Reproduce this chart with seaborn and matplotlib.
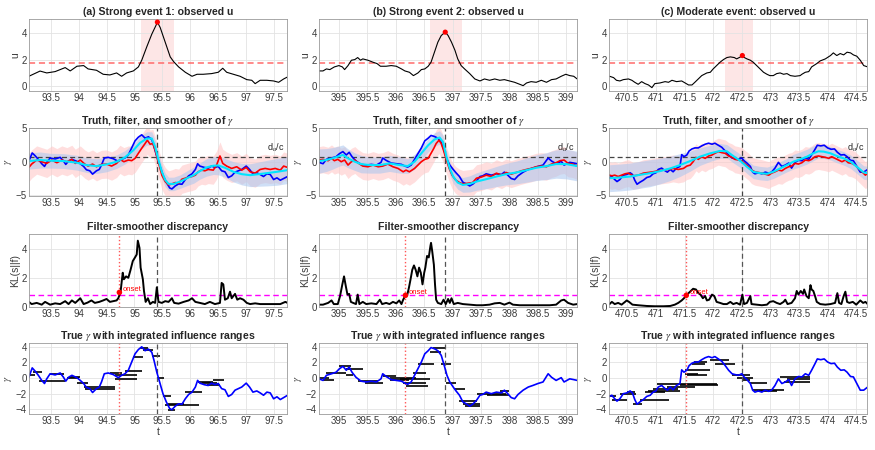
import matplotlib
matplotlib.use('Agg')
import matplotlib.pyplot as plt
from matplotlib.ticker import FuncFormatter
import seaborn as sns
import numpy as np

# ---------------- data ----------------
# observed u, (t, u)
u1 = [(93.11,0.75),(93.31,1.14),(93.43,1.0),(93.58,1.1),(93.76,1.4),(93.85,1.15),(93.97,1.5),(94.09,1.55),
      (94.17,1.3),(94.32,1.2),(94.44,0.9),(94.56,0.85),(94.68,1.0),(94.77,0.75),(94.86,1.0),(94.98,1.15),
      (95.07,1.45),(95.13,1.95),(95.22,2.95),(95.31,3.9),(95.39,4.6),(95.41,4.8),(95.46,4.4),(95.55,3.3),
      (95.64,2.2),(95.70,1.85),(95.79,1.45),(95.91,1.05),(96.03,0.75),(96.12,0.9),(96.23,0.9),(96.38,0.95),
      (96.50,1.05),(96.58,1.35),(96.65,1.05),(96.77,0.9),(96.89,0.75),(97.01,0.5),(97.10,0.45),(97.16,0.2),
      (97.25,0.45),(97.37,0.45),(97.49,0.4),(97.58,0.3),(97.67,0.55),(97.74,0.7)]
u2 = [(394.65,1.15),(394.72,1.15),(394.78,1.3),(394.84,1.25),(394.92,1.45),(395.0,1.55),(395.06,1.45),
      (395.10,1.25),(395.16,1.55),(395.22,1.95),(395.28,2.0),(395.33,2.15),(395.38,1.95),(395.42,2.05),
      (395.51,1.95),(395.60,1.8),(395.67,1.7),(395.73,1.5),(395.83,1.5),(395.92,1.55),(396.01,1.5),
      (396.10,1.3),(396.16,1.15),(396.24,1.05),(396.31,0.8),(396.39,1.0),(396.45,1.25),(396.51,1.3),
      (396.57,1.5),(396.62,1.8),(396.68,2.55),(396.74,3.3),(396.80,3.8),(396.87,4.05),(396.92,3.8),
      (396.98,3.3),(397.04,2.7),(397.09,2.05),(397.15,1.55),(397.21,1.3),(397.30,0.95),(397.39,0.55),
      (397.48,0.4),(397.56,0.55),(397.65,0.45),(397.74,0.55),(397.83,0.45),(397.91,0.5),(398.0,0.4),
      (398.09,0.3),(398.18,0.15),(398.24,0.05),(398.30,0.25),(398.38,0.35),(398.47,0.3),(398.56,0.45),
      (398.65,0.3),(398.74,0.5),(398.82,0.55),(398.91,0.75),(398.99,0.9),(399.06,0.8),(399.13,0.75),(399.19,0.55)]
u3 = [(470.19,0.75),(470.26,0.65),(470.31,0.45),(470.37,0.4),(470.43,0.5),(470.52,0.55),(470.58,0.45),
      (470.63,0.3),(470.69,0.15),(470.75,0.35),(470.81,0.2),(470.87,0.1),(470.93,-0.1),(470.98,0.2),
      (471.07,0.25),(471.16,0.35),(471.22,0.3),(471.28,0.45),(471.36,0.35),(471.45,0.4),(471.51,0.25),
      (471.57,0.1),(471.63,0.1),(471.68,0.3),(471.74,0.55),(471.80,0.8),(471.89,1.0),(471.95,1.05),
      (472.0,1.3),(472.06,1.55),(472.12,1.8),(472.18,2.0),(472.24,2.15),(472.30,2.2),(472.37,2.15),
      (472.41,2.05),(472.50,2.25),(472.59,2.05),(472.65,1.95),(472.70,1.8),(472.76,1.55),(472.82,1.3),
      (472.88,1.05),(472.94,0.9),(472.99,0.8),(473.05,0.8),(473.11,0.95),(473.17,1.0),(473.23,0.9),
      (473.29,0.95),(473.35,0.8),(473.43,0.75),(473.52,0.8),(473.55,0.9),(473.61,1.05),(473.67,1.1),
      (473.72,1.45),(473.81,1.7),(473.87,1.9),(473.96,2.05),(474.05,2.3),(474.10,2.5),(474.16,2.3),
      (474.22,2.45),(474.28,2.35),(474.34,2.55),(474.40,2.5),(474.45,2.35),(474.51,2.25),(474.57,1.95),
      (474.63,1.55),(474.70,1.45)]

# true gamma, (t, gamma)
g1 = [(93.11,0.1),(93.17,1.3),(93.22,0.9),(93.28,0.35),(93.34,-0.3),(93.39,-0.7),(93.43,-0.1),(93.49,0.55),
      (93.58,0.4),(93.67,0.65),(93.73,0.1),(93.77,-0.4),(93.82,0.1),(93.88,0.35),(93.97,0.05),(94.03,-0.3),
      (94.09,-0.7),(94.14,-1.2),(94.20,-1.35),(94.25,-1.85),(94.32,-1.35),(94.37,-1.15),(94.41,-0.5),
      (94.46,0.55),(94.53,0.65),(94.62,0.45),(94.71,0.05),(94.77,0.35),(94.83,0.55),(94.89,1.0),(94.95,2.05),
      (95.01,3.1),(95.07,3.65),(95.13,4.0),(95.19,3.5),(95.25,3.7),(95.31,3.3),(95.35,2.25),(95.40,0.75),
      (95.45,-0.5),(95.51,-2.0),(95.57,-3.05),(95.63,-3.9),(95.67,-4.05),(95.73,-3.6),(95.79,-3.3),
      (95.85,-3.35),(95.91,-2.65),(95.97,-2.1),(96.03,-1.8),(96.09,-1.15),(96.13,-0.3),(96.17,-0.65),
      (96.25,-0.85),(96.32,-0.95),(96.38,-0.65),(96.44,-0.85),(96.50,-0.7),(96.56,-1.35),(96.62,-1.5),
      (96.68,-2.35),(96.74,-2.1),(96.80,-1.55),(96.86,-1.35),(96.92,-1.15),(97.00,-0.65),(97.06,-1.15),
      (97.12,-1.8),(97.19,-1.65),(97.25,-1.9),(97.31,-2.2),(97.37,-1.8),(97.43,-1.9),(97.49,-2.65),
      (97.55,-2.4),(97.61,-2.75),(97.67,-2.5),(97.74,-2.2)]
g2 = [(394.65,-0.1),(394.72,-0.3),(394.78,0.35),(394.87,0.55),(394.95,0.75),(395.01,1.2),(395.07,1.5),
      (395.13,1.0),(395.18,1.4),(395.23,0.75),(395.30,0.1),(395.39,-0.4),(395.48,-0.5),(395.57,-0.4),
      (395.66,-0.5),(395.74,-0.1),(395.77,0.55),(395.83,0.2),(395.92,-0.2),(396.01,-0.3),(396.10,-0.4),
      (396.16,-0.65),(396.21,-0.8),(396.27,-0.5),(396.33,0.35),(396.39,1.2),(396.45,2.05),(396.51,3.1),
      (396.57,3.5),(396.62,3.9),(396.68,3.75),(396.74,3.5),(396.80,2.9),(396.86,1.4),(396.90,0.35),
      (396.95,-0.5),(397.01,-1.15),(397.06,-1.65),(397.12,-2.2),(397.18,-3.05),(397.24,-3.3),(397.30,-3.6),
      (397.36,-3.3),(397.42,-2.85),(397.48,-2.2),(397.53,-2.1),(397.59,-1.8),(397.68,-2.0),(397.77,-1.8),
      (397.86,-1.9),(397.91,-1.55),(397.97,-2.0),(398.03,-2.5),(398.09,-2.65),(398.15,-2.1),(398.24,-1.55),
      (398.33,-1.15),(398.41,-0.95),(398.50,-0.7),(398.59,-0.5),(398.68,0.55),(398.74,0.1),(398.82,-0.3),
      (398.91,0.05),(398.96,-0.5),(399.06,-0.1),(399.13,-0.2),(399.19,-0.3)]
g3 = [(470.19,-2.35),(470.23,-2.2),(470.28,-2.65),(470.32,-2.95),(470.37,-2.65),(470.43,-2.0),(470.49,-1.9),
      (470.55,-1.65),(470.59,-1.9),(470.63,-2.75),(470.67,-3.35),(470.72,-3.05),(470.78,-2.75),(470.84,-2.35),
      (470.90,-2.2),(470.95,-1.8),(471.0,-1.65),(471.04,-1.15),(471.10,-0.95),(471.16,-1.35),(471.20,-1.55),
      (471.25,-1.15),(471.30,-1.5),(471.36,-0.95),(471.42,-0.7),(471.45,1.05),(471.49,0.75),(471.54,1.0),
      (471.58,1.6),(471.63,1.9),(471.68,2.05),(471.74,2.05),(471.80,2.35),(471.86,2.6),(471.92,2.75),
      (471.98,2.6),(472.03,2.75),(472.09,2.45),(472.15,2.15),(472.21,1.6),(472.27,1.0),(472.33,0.55),
      (472.38,0.45),(472.44,0.35),(472.50,0.55),(472.54,0.15),(472.59,-0.2),(472.65,-0.7),(472.69,-1.55),
      (472.73,-1.8),(472.79,-1.65),(472.85,-1.8),(472.91,-1.55),(472.97,-1.7),(473.02,-1.55),(473.08,-0.95),
      (473.14,-0.1),(473.20,-0.7),(473.26,-0.5),(473.32,-0.2),(473.37,-0.95),(473.43,-0.1),(473.49,0.2),
      (473.55,0.15),(473.61,0.55),(473.67,0.35),(473.72,1.0),(473.78,1.85),(473.82,2.45),(473.88,2.35),
      (473.94,2.45),(474.0,2.05),(474.06,1.85),(474.12,1.9),(474.17,1.4),(474.23,1.0),(474.29,1.05),
      (474.34,0.75),(474.40,0.2),(474.45,0.15),(474.51,-0.7),(474.57,-1.55),(474.63,-1.55),(474.70,-1.15)]

# filter mean, (t, gamma)
f1 = [(93.11,-0.85),(93.16,-0.35),(93.25,0.25),(93.34,0.0),(93.43,-0.25),(93.52,0.25),(93.61,-0.15),
      (93.70,0.25),(93.79,0.0),(93.88,0.35),(93.94,-0.25),(94.03,0.25),(94.11,-0.35),(94.17,-0.65),
      (94.25,-0.35),(94.32,-0.75),(94.41,-0.4),(94.50,-0.35),(94.59,-0.65),(94.68,-0.25),(94.74,0.35),
      (94.81,0.0),(94.89,0.25),(94.95,0.15),(95.01,0.5),(95.07,1.25),(95.13,2.0),(95.19,2.7),(95.23,3.2),
      (95.28,2.6),(95.33,2.7),(95.37,1.7),(95.41,0.5),(95.45,-0.75),(95.49,-2.0),(95.55,-2.95),(95.61,-3.45),
      (95.67,-3.3),(95.73,-3.1),(95.79,-3.2),(95.85,-2.6),(95.91,-2.45),(95.97,-2.3),(96.03,-2.2),(96.09,-2.0),
      (96.14,-1.5),(96.20,-1.25),(96.26,-1.35),(96.32,-1.15),(96.41,-1.25),(96.47,-0.5),(96.53,0.85),
      (96.58,-0.25),(96.65,-0.65),(96.74,-1.0),(96.83,-0.75),(96.92,-1.25),(97.00,-0.85),(97.07,-1.5),
      (97.16,-1.7),(97.25,-1.15),(97.34,-1.0),(97.43,-1.15),(97.52,-1.0),(97.61,-1.25),(97.67,-0.65),(97.74,-0.85)]
f2 = [(394.65,0.25),(394.72,0.35),(394.81,0.15),(394.87,0.5),(394.92,0.15),(394.98,0.35),(395.04,0.0),
      (395.10,0.25),(395.16,-0.5),(395.22,0.0),(395.28,0.25),(395.33,-0.15),(395.42,-0.65),(395.51,-0.75),
      (395.60,-0.5),(395.69,-0.75),(395.77,-0.65),(395.86,-0.35),(395.95,-0.75),(396.04,-1.0),(396.13,-1.5),
      (396.18,-1.25),(396.24,-1.5),(396.33,-1.0),(396.39,-0.5),(396.45,0.0),(396.51,0.35),(396.57,0.5),
      (396.62,1.25),(396.67,2.0),(396.71,2.7),(396.76,3.2),(396.80,2.7),(396.84,1.7),(396.89,0.25),
      (396.94,-1.0),(396.99,-2.0),(397.05,-2.7),(397.12,-3.1),(397.18,-3.3),(397.27,-3.2),(397.35,-3.1),
      (397.42,-2.45),(397.50,-2.3),(397.59,-2.0),(397.68,-2.2),(397.77,-1.7),(397.86,-2.0),(397.94,-1.6),
      (398.03,-1.85),(398.12,-1.6),(398.21,-1.35),(398.30,-1.15),(398.38,-1.0),(398.47,-0.75),(398.56,-0.65),
      (398.65,-0.75),(398.74,-0.35),(398.82,-0.15),(398.89,0.15),(398.96,0.25),(399.03,-0.25),(399.11,-0.35),
      (399.19,-0.65)]
f3 = [(470.19,-2.0),(470.23,-2.1),(470.28,-2.0),(470.34,-2.2),(470.40,-2.0),(470.46,-1.8),(470.52,-1.7),
      (470.60,-2.1),(470.69,-2.0),(470.78,-1.7),(470.87,-1.6),(470.95,-1.5),(471.04,-1.35),(471.13,-1.25),
      (471.22,-1.15),(471.30,-1.0),(471.39,-1.15),(471.48,-1.0),(471.54,-0.65),(471.60,-0.5),(471.65,0.0),
      (471.70,0.65),(471.74,0.35),(471.80,0.75),(471.86,0.5),(471.92,0.85),(471.98,1.0),(472.03,1.25),
      (472.09,1.5),(472.15,1.35),(472.21,1.25),(472.27,0.85),(472.33,0.65),(472.38,0.35),(472.44,0.25),
      (472.50,0.1),(472.56,-0.35),(472.62,-0.75),(472.67,-1.25),(472.73,-1.5),(472.79,-1.6),(472.85,-1.7),
      (472.91,-1.85),(472.97,-2.0),(473.02,-1.7),(473.08,-1.5),(473.14,-1.25),(473.20,-1.35),(473.26,-1.0),
      (473.32,-0.75),(473.37,-0.65),(473.43,-0.25),(473.49,-0.35),(473.55,-0.15),(473.61,0.25),(473.67,0.15),
      (473.72,0.35),(473.78,0.75),(473.84,0.85),(473.90,0.75),(473.96,0.65),(474.02,0.5),(474.07,0.75),
      (474.13,0.5),(474.19,0.25),(474.25,0.0),(474.31,0.25),(474.36,-0.15),(474.42,-0.25),(474.48,-0.5),
      (474.54,-1.0),(474.60,-1.5),(474.66,-2.0),(474.70,-1.7)]
filter_spread = [2.1, 2.0, 2.0]  # half width of the pink filter band

# smoother mean and half width, (t, gamma, spread)
s1 = [(93.11,0.1,1.2),(93.31,0.25,1.2),(93.49,0.15,1.1),(93.73,0.1,1.1),(93.97,-0.15,1.1),(94.14,-0.5,1.1),
      (94.32,-0.65,1.1),(94.50,-0.4,1.1),(94.68,0.0,1.0),(94.83,0.65,1.0),(94.98,1.7,1.0),(95.10,2.8,1.0),
      (95.22,3.45,1.0),(95.31,3.45,1.0),(95.37,2.2,1.0),(95.43,0.25,1.0),(95.49,-1.5,1.0),(95.55,-2.7,1.0),
      (95.61,-3.3,1.0),(95.70,-3.3,1.0),(95.82,-2.95,1.0),(95.94,-2.45,1.1),(96.06,-2.0,1.2),(96.17,-1.4,1.2),
      (96.29,-0.85,1.3),(96.41,-0.6,1.3),(96.50,-0.55,1.4),(96.62,-0.9,1.4),(96.77,-1.5,1.5),(96.92,-1.85,1.6),
      (97.07,-2.0,1.7),(97.22,-1.85,1.8),(97.37,-1.7,1.9),(97.55,-1.5,2.0),(97.74,-1.25,2.0)]
s2 = [(394.65,0.1,1.8),(394.78,0.25,1.7),(394.89,0.5,1.6),(395.01,0.85,1.5),(395.07,1.0,1.5),(395.16,0.5,1.4),
      (395.28,0.0,1.3),(395.39,-0.35,1.3),(395.54,-0.5,1.2),(395.72,-0.5,1.2),(395.89,-0.25,1.2),(396.07,-0.5,1.2),
      (396.21,-0.65,1.1),(396.33,0.0,1.1),(396.45,1.25,1.0),(396.57,2.45,1.0),(396.68,3.3,1.0),(396.77,3.6,1.0),
      (396.83,2.95,1.0),(396.89,0.75,1.0),(396.95,-1.0,1.0),(397.01,-2.2,1.0),(397.09,-3.1,1.0),(397.18,-3.45,1.1),
      (397.30,-3.3,1.2),(397.42,-2.95,1.3),(397.59,-2.6,1.4),(397.77,-2.2,1.5),(397.94,-1.85,1.6),(398.12,-1.6,1.7),
      (398.30,-1.25,1.8),(398.47,-0.9,1.9),(398.65,-0.65,2.0),(398.82,-0.35,2.1),(399.0,-0.35,2.2),(399.19,-0.65,2.2)]
s3 = [(470.19,-2.45,2.0),(470.37,-2.35,2.0),(470.55,-2.2,2.0),(470.72,-1.95,2.0),(470.90,-1.7,2.0),
      (471.07,-1.4,1.9),(471.25,-1.0,1.8),(471.42,-0.5,1.7),(471.60,0.1,1.5),(471.77,0.75,1.3),(471.95,1.25,1.2),
      (472.12,1.6,1.1),(472.24,1.55,1.0),(472.35,0.85,1.0),(472.47,0.15,1.0),(472.59,-0.75,1.0),(472.70,-1.5,1.0),
      (472.82,-1.7,1.0),(472.94,-1.8,1.0),(473.05,-1.5,1.0),(473.17,-1.0,1.0),(473.29,-0.5,1.0),(473.40,0.0,1.1),
      (473.52,0.35,1.1),(473.64,0.75,1.1),(473.75,1.25,1.1),(473.84,1.55,1.0),(473.93,1.5,1.0),(474.05,1.25,1.0),
      (474.16,0.85,1.0),(474.28,0.5,1.0),(474.40,0.0,1.0),(474.51,-0.75,1.0),(474.63,-1.6,1.0),(474.70,-1.7,1.0)]

# KL(smoother || filter), (t, KL)
kl1 = [(93.11,0.35),(93.16,0.2),(93.25,0.28),(93.34,0.16),(93.40,0.35),(93.49,0.16),(93.58,0.25),(93.67,0.2),
       (93.76,0.4),(93.82,0.2),(93.88,0.45),(93.94,0.28),(94.03,0.6),(94.09,0.2),(94.16,0.3),(94.23,0.45),
       (94.29,0.28),(94.37,0.35),(94.44,0.45),(94.50,0.55),(94.56,0.35),(94.62,0.4),(94.68,0.45),(94.71,0.6),
       (94.75,1.0),(94.79,2.35),(94.81,1.9),(94.85,2.1),(94.89,2.0),(94.93,2.55),(94.97,3.15),(95.01,3.4),
       (95.04,3.6),(95.06,4.55),(95.09,4.05),(95.11,2.7),(95.15,1.9),(95.17,1.1),(95.20,0.35),(95.24,0.6),
       (95.28,0.2),(95.33,0.35),(95.37,0.28),(95.40,1.35),(95.43,0.35),(95.49,0.28),(95.55,0.4),(95.61,0.35),
       (95.67,0.6),(95.71,0.28),(95.79,0.23),(95.88,0.35),(95.97,0.45),(96.03,0.6),(96.09,0.35),(96.17,0.28),
       (96.26,0.2),(96.35,0.35),(96.44,0.2),(96.53,0.28),(96.56,1.65),(96.59,1.55),(96.62,0.5),(96.67,0.6),
       (96.71,1.05),(96.74,0.6),(96.77,0.75),(96.80,0.9),(96.84,0.5),(96.89,0.6),(96.95,0.5),(97.01,0.28),
       (97.07,0.2),(97.16,0.25),(97.25,0.2),(97.37,0.2),(97.49,0.2),(97.61,0.2),(97.70,0.35),(97.74,0.28)]
kl2 = [(394.65,0.16),(394.72,0.16),(394.81,0.28),(394.87,0.45),(394.91,0.2),(394.98,0.2),(395.02,0.75),
       (395.06,1.55),(395.09,2.1),(395.12,1.45),(395.15,0.85),(395.18,0.9),(395.21,0.35),(395.25,0.28),
       (395.30,0.2),(395.33,0.85),(395.36,0.2),(395.42,0.35),(395.48,0.2),(395.57,0.25),(395.66,0.2),
       (395.72,0.5),(395.76,0.2),(395.83,0.28),(395.89,0.2),(395.95,0.35),(396.01,0.25),(396.06,0.45),
       (396.10,0.2),(396.13,0.5),(396.17,0.8),(396.20,0.8),(396.23,1.3),(396.26,1.9),(396.29,2.55),(396.32,2.85),
       (396.35,2.55),(396.38,2.1),(396.41,2.7),(396.44,2.35),(396.47,1.55),(396.50,2.35),(396.52,2.7),
       (396.55,3.5),(396.58,3.4),(396.61,4.2),(396.62,4.4),(396.64,3.85),(396.67,2.9),(396.69,1.55),
       (396.71,0.5),(396.74,0.28),(396.80,0.2),(396.84,0.5),(396.88,0.2),(396.92,0.55),(396.95,0.28),
       (396.98,0.6),(397.02,0.2),(397.09,0.28),(397.18,0.2),(397.30,0.16),(397.42,0.12),(397.53,0.12),
       (397.65,0.16),(397.74,0.25),(397.83,0.28),(397.91,0.16),(398.0,0.3),(398.06,0.16),(398.18,0.12),
       (398.35,0.12),(398.53,0.12),(398.71,0.12),(398.82,0.16),(398.91,0.45),(398.96,0.5),(399.03,0.28),
       (399.12,0.16),(399.19,0.2)]
kl3 = [(470.19,0.2),(470.23,0.35),(470.28,0.2),(470.34,0.28),(470.40,0.16),(470.46,0.35),(470.49,0.45),
       (470.53,0.35),(470.59,0.16),(470.69,0.12),(470.84,0.07),(470.98,0.05),(471.13,0.05),(471.25,0.07),
       (471.33,0.16),(471.39,0.28),(471.45,0.45),(471.49,0.6),(471.53,0.8),(471.57,0.95),(471.61,1.1),
       (471.65,1.25),(471.70,1.2),(471.74,0.95),(471.78,0.85),(471.82,0.6),(471.86,0.75),(471.89,0.45),
       (471.93,0.5),(471.98,0.85),(472.02,0.75),(472.06,0.35),(472.12,0.28),(472.18,0.2),(472.24,0.2),
       (472.30,0.35),(472.35,0.2),(472.41,0.28),(472.47,0.16),(472.51,0.85),(472.54,0.2),(472.59,0.28),
       (472.65,0.75),(472.67,0.2),(472.76,0.16),(472.85,0.12),(472.94,0.16),(472.99,0.35),(473.05,0.4),
       (473.11,0.28),(473.17,0.2),(473.23,0.35),(473.26,0.5),(473.30,0.2),(473.37,0.28),(473.43,0.6),
       (473.46,1.1),(473.49,0.85),(473.53,1.1),(473.57,0.9),(473.59,1.2),(473.63,0.75),(473.67,0.6),
       (473.70,1.5),(473.72,1.2),(473.75,1.1),(473.78,0.75),(473.81,0.35),(473.87,0.2),(473.96,0.16),
       (474.05,0.2),(474.13,0.28),(474.17,0.95),(474.20,0.28),(474.24,0.2),(474.28,0.75),(474.31,1.05),
       (474.34,0.35),(474.38,0.28),(474.44,0.35),(474.50,0.16),(474.57,0.45),(474.62,0.28),(474.66,0.35),
       (474.70,0.2)]

# integrated influence ranges, (t_start, t_end, gamma)
seg1 = [(93.11,93.22,0.35),(93.19,93.34,0.75),(93.30,93.76,-0.35),(93.49,93.73,0.55),(93.79,94.0,0.05),
        (93.82,94.03,0.15),(93.98,94.16,-0.6),(94.09,94.65,-1.1),(94.12,94.65,-1.4),(94.56,94.77,0.6),
        (94.65,95.04,0.35),(94.65,95.04,-0.15),(94.83,95.13,0.9),(94.98,95.16,2.7),(95.10,95.25,3.9),
        (95.16,95.34,3.6),(95.31,95.46,2.8),(95.40,95.52,0.05),(95.51,95.65,-2.35),(95.55,96.15,-3.5),
        (95.60,95.88,-3.35),(95.60,95.73,-4.05),(95.91,96.20,-1.8),(96.14,96.41,-0.45),(96.20,96.47,-0.6),
        (96.29,96.53,-0.95),(96.41,96.60,-0.3)]
seg2 = [(394.65,394.82,0.05),(394.72,394.92,-0.3),(395.01,395.22,1.55),(394.78,395.13,0.65),(395.13,395.42,1.1),
        (395.13,395.25,0.35),(395.33,395.69,-0.4),(395.45,395.77,-0.6),(395.77,396.0,0.2),(395.89,396.24,-0.2),
        (395.89,396.36,0.0),(396.07,396.60,-0.1),(396.13,396.54,-0.65),(396.18,396.57,-1.0),(396.30,396.54,0.65),
        (396.39,396.68,1.75),(396.60,396.80,3.35),(396.65,396.86,3.8),(396.80,396.98,1.85),(396.89,397.06,-0.6),
        (397.04,397.21,-1.35),(397.12,397.42,-3.0),(397.18,397.48,-3.3),(397.21,397.48,-3.6),(397.42,397.94,-2.0),
        (397.60,398.0,-2.2),(397.83,398.0,-1.6)]
seg3 = [(470.18,470.31,-2.3),(470.23,470.49,-2.75),(470.37,470.66,-2.1),(470.49,470.63,-1.8),(470.60,470.75,-3.3),
        (470.72,471.22,-2.85),(470.81,471.16,-1.8),(470.87,471.42,-1.65),(470.95,471.39,-1.35),(471.19,471.68,-1.1),
        (471.01,472.06,-0.75),(471.42,472.09,-0.95),(471.51,471.95,1.0),(471.51,471.74,0.55),(471.54,471.89,0.45),
        (471.63,471.86,1.85),(471.66,471.89,2.05),(471.95,472.27,2.25),(472.04,472.38,1.85),(472.33,472.65,0.35),
        (472.41,472.70,0.05),(472.50,472.65,-0.2),(472.65,472.94,-0.65),(472.70,473.23,-1.5),(472.76,473.11,-1.65),
        (473.17,473.70,0.15),(473.23,473.70,-0.5),(473.29,473.70,-0.1)]

titles = ['(a) Strong event 1: observed u', '(b) Strong event 2: observed u', '(c) Moderate event: observed u']
peaks = [(95.41, 4.8), (396.87, 4.05), (472.51, 2.3)]
peak_windows = [(95.11, 95.71), (396.60, 397.17), (472.21, 472.69)]
onsets = [(94.73, 1.0), (396.17, 0.8), (471.53, 0.8)]
xlims = [(93.11, 97.73), (394.65, 399.19), (470.18, 474.69)]
xticks = [[93.5, 94, 94.5, 95, 95.5, 96, 96.5, 97, 97.5],
          [395, 395.5, 396, 396.5, 397, 397.5, 398, 398.5, 399],
          [470.5, 471, 471.5, 472, 472.5, 473, 473.5, 474, 474.5]]
u_threshold = 1.75
du_over_c = 0.7
kl_threshold = 0.82

# ---------------- style ----------------
sns.set_theme(style='whitegrid')
plt.rcParams['font.family'] = ['Liberation Sans', 'DejaVu Sans']
plt.rcParams['mathtext.fontset'] = 'stix'
plt.rcParams['axes.edgecolor'] = '#9a9a9a'
plt.rcParams['axes.linewidth'] = 0.6
plt.rcParams['grid.color'] = '#e3e3e3'
plt.rcParams['grid.linewidth'] = 0.6
plt.rcParams['xtick.color'] = '#3a3a3a'
plt.rcParams['ytick.color'] = '#3a3a3a'

fig = plt.figure(figsize=(8.75, 4.5), dpi=100)
lefts = [0.033, 0.3646, 0.696]
width = 0.295
rows = [(0.7978, 0.159), (0.5644, 0.151), (0.3178, 0.162), (0.08, 0.158)]
fmt = FuncFormatter(lambda v, p: '%g' % v)


def line(ax, pts, color, lw):
    a = np.array(pts)
    sns.lineplot(x=a[:, 0], y=a[:, 1], ax=ax, color=color, linewidth=lw, estimator=None, sort=False)


def setup(ax, col, ylim, yticks, title, ylabel):
    ax.set_xlim(*xlims[col])
    ax.set_ylim(*ylim)
    ax.set_xticks(xticks[col])
    ax.set_yticks(yticks)
    ax.xaxis.set_major_formatter(fmt)
    ax.tick_params(labelsize=7, pad=1.5, length=2, direction='in')
    ax.set_title(title, fontsize=7.6, fontweight='bold', pad=3)
    ax.set_ylabel(ylabel, fontsize=7.5, labelpad=1, color='#3a3a3a')
    ax.set_xlabel('')


for c in range(3):
    L = lefts[c]
    u, g, f, s, kl, seg = [u1, u2, u3][c], [g1, g2, g3][c], [f1, f2, f3][c], [s1, s2, s3][c], [kl1, kl2, kl3][c], [seg1, seg2, seg3][c]
    pk_t, pk_u = peaks[c]
    on_t, on_kl = onsets[c]

    # row 1: observed u
    ax = fig.add_axes([L, rows[0][0], width, rows[0][1]])
    ax.axvspan(*peak_windows[c], color='#fde6e6', lw=0, zorder=0)
    ax.axhline(u_threshold, color='#ff6b6b', ls=(0, (4, 2.5)), lw=1.1)
    line(ax, u, 'black', 0.8)
    sns.scatterplot(x=[pk_t], y=[pk_u], ax=ax, color='red', s=14, edgecolor='none', zorder=5)
    setup(ax, c, (-0.35, 5), [0, 2, 4], titles[c], 'u')

    # row 2: truth, filter, smoother
    ax = fig.add_axes([L, rows[1][0], width, rows[1][1]])
    fa = np.array(f)
    sa = np.array(s)
    ax.fill_between(fa[:, 0], fa[:, 1] - filter_spread[c], fa[:, 1] + filter_spread[c], color='#ffc9c9', alpha=0.6, lw=0)
    ax.fill_between(sa[:, 0], sa[:, 1] - sa[:, 2], sa[:, 1] + sa[:, 2], color='#a9c6ef', alpha=0.55, lw=0)
    ax.axhline(du_over_c, color='#444444', ls=(0, (4, 2.5)), lw=0.9)
    ax.axvline(pk_t, color='#444444', ls=(0, (4, 2.5)), lw=0.9)
    line(ax, g, '#0000ff', 1.2)
    line(ax, f, '#ff0000', 1.2)
    line(ax, sa[:, :2], '#00e5ff', 1.5)
    ax.text(xlims[c][1] - 0.05, du_over_c + 0.5, r'd$_u$/c', ha='right', va='bottom', fontsize=6.5, color='#222222')
    setup(ax, c, (-5.1, 5), [-5, 0, 5], r'Truth, filter, and smoother of $\gamma$', r'$\gamma$')

    # row 3: KL discrepancy
    ax = fig.add_axes([L, rows[2][0], width, rows[2][1]])
    ax.axhline(kl_threshold, color='#ff00ff', ls=(0, (4, 2.5)), lw=1.0)
    ax.axvline(on_t, color='#ff5555', ls=':', lw=1.0)
    ax.axvline(pk_t, color='#555555', ls=(0, (4, 2.5)), lw=0.9)
    line(ax, kl, 'black', 1.4)
    sns.scatterplot(x=[on_t], y=[on_kl], ax=ax, color='red', s=16, edgecolor='none', zorder=5)
    ax.text(on_t + 0.06, on_kl + 0.22, 'onset', color='red', fontsize=5.5, va='center')
    setup(ax, c, (0, 5), [0, 2, 4], 'Filter-smoother discrepancy', 'KL(s||f)')

    # row 4: truth with influence ranges
    ax = fig.add_axes([L, rows[3][0], width, rows[3][1]])
    sg = np.array(seg)
    ax.hlines(sg[:, 2], sg[:, 0], sg[:, 1], color='black', lw=1.2)
    ax.axvline(on_t, color='#ff5555', ls=':', lw=1.0)
    ax.axvline(pk_t, color='#555555', ls=(0, (4, 2.5)), lw=0.9)
    line(ax, g, '#0000ff', 1.2)
    setup(ax, c, (-4.6, 4.5), [-4, -2, 0, 2, 4], r'True $\gamma$ with integrated influence ranges', r'$\gamma$')
    ax.set_xlabel('t', fontsize=7.5, labelpad=1, color='#3a3a3a')

fig.savefig('out.png', dpi=100)
